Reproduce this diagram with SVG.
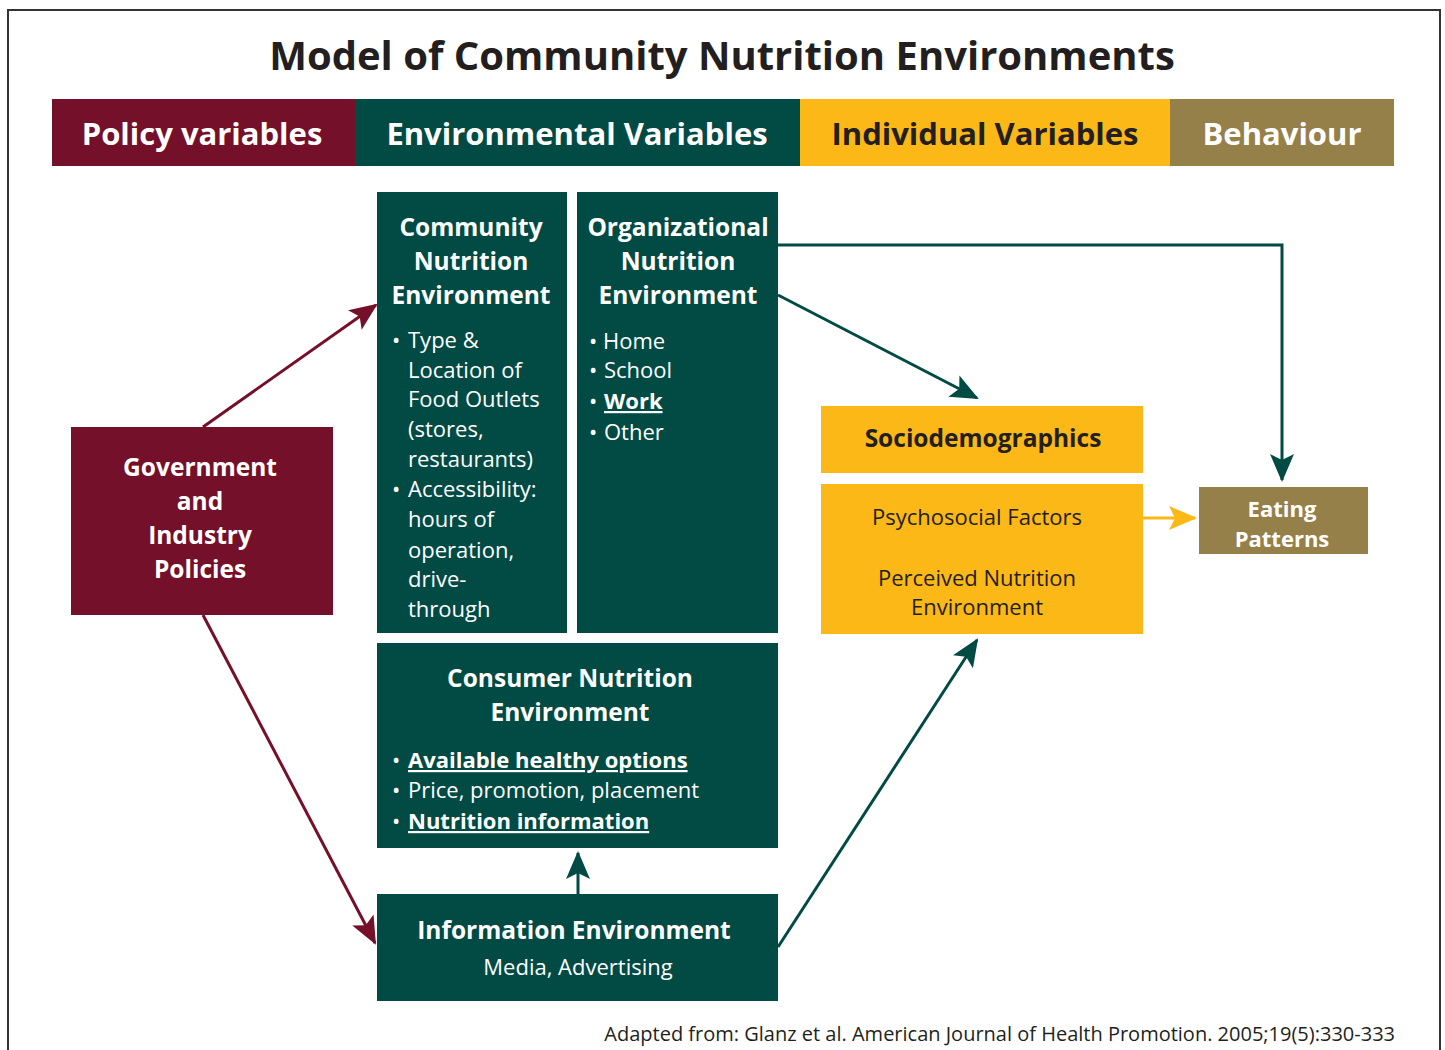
<svg xmlns="http://www.w3.org/2000/svg" width="1445" height="1050" viewBox="0 0 1445 1050">
<defs>
<style>
text{font-family:"Open Sans","Liberation Sans",sans-serif;}
.title{font-size:40px;font-weight:700;fill:#231F20;}
.hdr{font-size:31px;font-weight:700;}
.nt{font-size:24.5px;font-weight:700;fill:#fff;}
.bt{font-size:22px;fill:#fff;}
.bb{font-size:22px;font-weight:700;fill:#fff;text-decoration:underline;}
.dk{fill:#231F20;}
.teal{fill:#024A44;}
.maroon{fill:#75102A;}
.gold{fill:#FBB817;}
.olive{fill:#96804A;}
.cm{stroke:#75102A;stroke-width:3;fill:none;}
.ct{stroke:#024A44;stroke-width:3;fill:none;}
.cy{stroke:#FBB817;stroke-width:3;fill:none;}
</style>
<marker id="am" markerUnits="userSpaceOnUse" markerWidth="28" markerHeight="24" viewBox="0 0 28 24" refX="26" refY="12" orient="auto"><path d="M0,0 L28,12 L0,24 L6,12 Z" fill="#75102A"/></marker>
<marker id="at" markerUnits="userSpaceOnUse" markerWidth="28" markerHeight="24" viewBox="0 0 28 24" refX="26" refY="12" orient="auto"><path d="M0,0 L28,12 L0,24 L6,12 Z" fill="#024A44"/></marker>
<marker id="ay" markerUnits="userSpaceOnUse" markerWidth="28" markerHeight="24" viewBox="0 0 28 24" refX="26" refY="12" orient="auto"><path d="M0,0 L28,12 L0,24 L6,12 Z" fill="#FBB817"/></marker>
</defs>
<rect x="0" y="0" width="1445" height="1050" fill="#fff"/>
<rect x="8" y="10" width="1432" height="1060" fill="none" stroke="#333" stroke-width="2"/>
<text class="title" x="722" y="70" text-anchor="middle">Model of Community Nutrition Environments</text>

<g id="header">
<rect x="52" y="99" width="303" height="67" class="maroon"/>
<rect x="355" y="99" width="445" height="67" class="teal"/>
<rect x="800" y="99" width="370" height="67" class="gold"/>
<rect x="1170" y="99" width="224" height="67" class="olive"/>
<text class="hdr" x="202" y="145" text-anchor="middle" fill="#fff">Policy variables</text>
<text class="hdr" x="577" y="145" text-anchor="middle" fill="#fff">Environmental Variables</text>
<text class="hdr dk" x="985" y="145" text-anchor="middle">Individual Variables</text>
<text class="hdr" x="1282" y="145" text-anchor="middle" fill="#fff">Behaviour</text>
</g>

<g id="connectors">
<line class="cm" x1="203" y1="427" x2="376" y2="305" marker-end="url(#am)"/>
<line class="cm" x1="203" y1="615" x2="375" y2="943" marker-end="url(#am)"/>
<polyline class="ct" points="778,245 1282,245 1282,480" marker-end="url(#at)"/>
<line class="ct" x1="778" y1="295" x2="977" y2="398" marker-end="url(#at)"/>
<line class="ct" x1="778" y1="947" x2="977" y2="640" marker-end="url(#at)"/>
<line class="ct" x1="578" y1="894" x2="578" y2="853" marker-end="url(#at)"/>
<line class="cy" x1="1143" y1="518" x2="1195" y2="518" marker-end="url(#ay)"/>
</g>

<g id="government">
<rect x="71" y="427" width="262" height="188" class="maroon"/>
<text class="nt" text-anchor="middle"><tspan x="200" y="476">Government</tspan><tspan x="200" y="510">and</tspan><tspan x="200" y="544">Industry</tspan><tspan x="200" y="578">Policies</tspan></text>
</g>

<g id="community">
<rect x="377" y="192" width="190" height="441" class="teal"/>
<text class="nt" text-anchor="middle"><tspan x="471" y="236">Community</tspan><tspan x="471" y="270">Nutrition</tspan><tspan x="471" y="304">Environment</tspan></text>
<text class="bt"><tspan x="392" y="348">•</tspan><tspan x="408" y="348">Type &amp;</tspan><tspan x="408" y="378">Location of</tspan><tspan x="408" y="407">Food Outlets</tspan><tspan x="408" y="437">(stores,</tspan><tspan x="408" y="467">restaurants)</tspan><tspan x="392" y="497">•</tspan><tspan x="408" y="497">Accessibility:</tspan><tspan x="408" y="527">hours of</tspan><tspan x="408" y="558">operation,</tspan><tspan x="408" y="587">drive-</tspan><tspan x="408" y="617">through</tspan></text>
</g>

<g id="organizational">
<rect x="577" y="192" width="201" height="441" class="teal"/>
<text class="nt" text-anchor="middle"><tspan x="678" y="236">Organizational</tspan><tspan x="678" y="270">Nutrition</tspan><tspan x="678" y="304">Environment</tspan></text>
<text class="bt"><tspan x="589" y="349">•</tspan><tspan x="603" y="349">Home</tspan><tspan x="589" y="378">•</tspan><tspan x="604" y="378">School</tspan><tspan x="589" y="409">•</tspan><tspan x="589" y="440">•</tspan><tspan x="604" y="440">Other</tspan></text>
<text class="bb" x="604" y="409">Work</text>
</g>

<g id="consumer">
<rect x="377" y="643" width="401" height="205" class="teal"/>
<text class="nt" text-anchor="middle"><tspan x="570" y="687">Consumer Nutrition</tspan><tspan x="570" y="721">Environment</tspan></text>
<text class="bt"><tspan x="392" y="768">•</tspan><tspan x="392" y="798">•</tspan><tspan x="408" y="798">Price, promotion, placement</tspan><tspan x="392" y="829">•</tspan></text>
<text class="bb" x="408" y="768">Available healthy options</text>
<text class="bb" x="408" y="829">Nutrition information</text>
</g>

<g id="information">
<rect x="377" y="894" width="401" height="107" class="teal"/>
<text class="nt" x="574" y="939" text-anchor="middle">Information Environment</text>
<text class="bt" x="578" y="975" text-anchor="middle">Media, Advertising</text>
</g>

<g id="sociodemographics">
<rect x="821" y="406" width="322" height="67" class="gold"/>
<text class="nt dk" x="983" y="447" text-anchor="middle">Sociodemographics</text>
</g>

<g id="psychosocial">
<rect x="821" y="484" width="322" height="150" class="gold"/>
<text class="bt dk" text-anchor="middle"><tspan x="977" y="525">Psychosocial Factors</tspan><tspan x="977" y="586">Perceived Nutrition</tspan><tspan x="977" y="615">Environment</tspan></text>
</g>

<g id="eating">
<rect x="1199" y="487" width="169" height="67" class="olive"/>
<text class="nt" style="font-size:22px" text-anchor="middle"><tspan x="1282" y="517">Eating</tspan><tspan x="1282" y="547">Patterns</tspan></text>
</g>

<text x="1395" y="1041" text-anchor="end" style="font-size:20px;fill:#231F20">Adapted from: Glanz et al. American Journal of Health Promotion. 2005;19(5):330-333</text>
</svg>
